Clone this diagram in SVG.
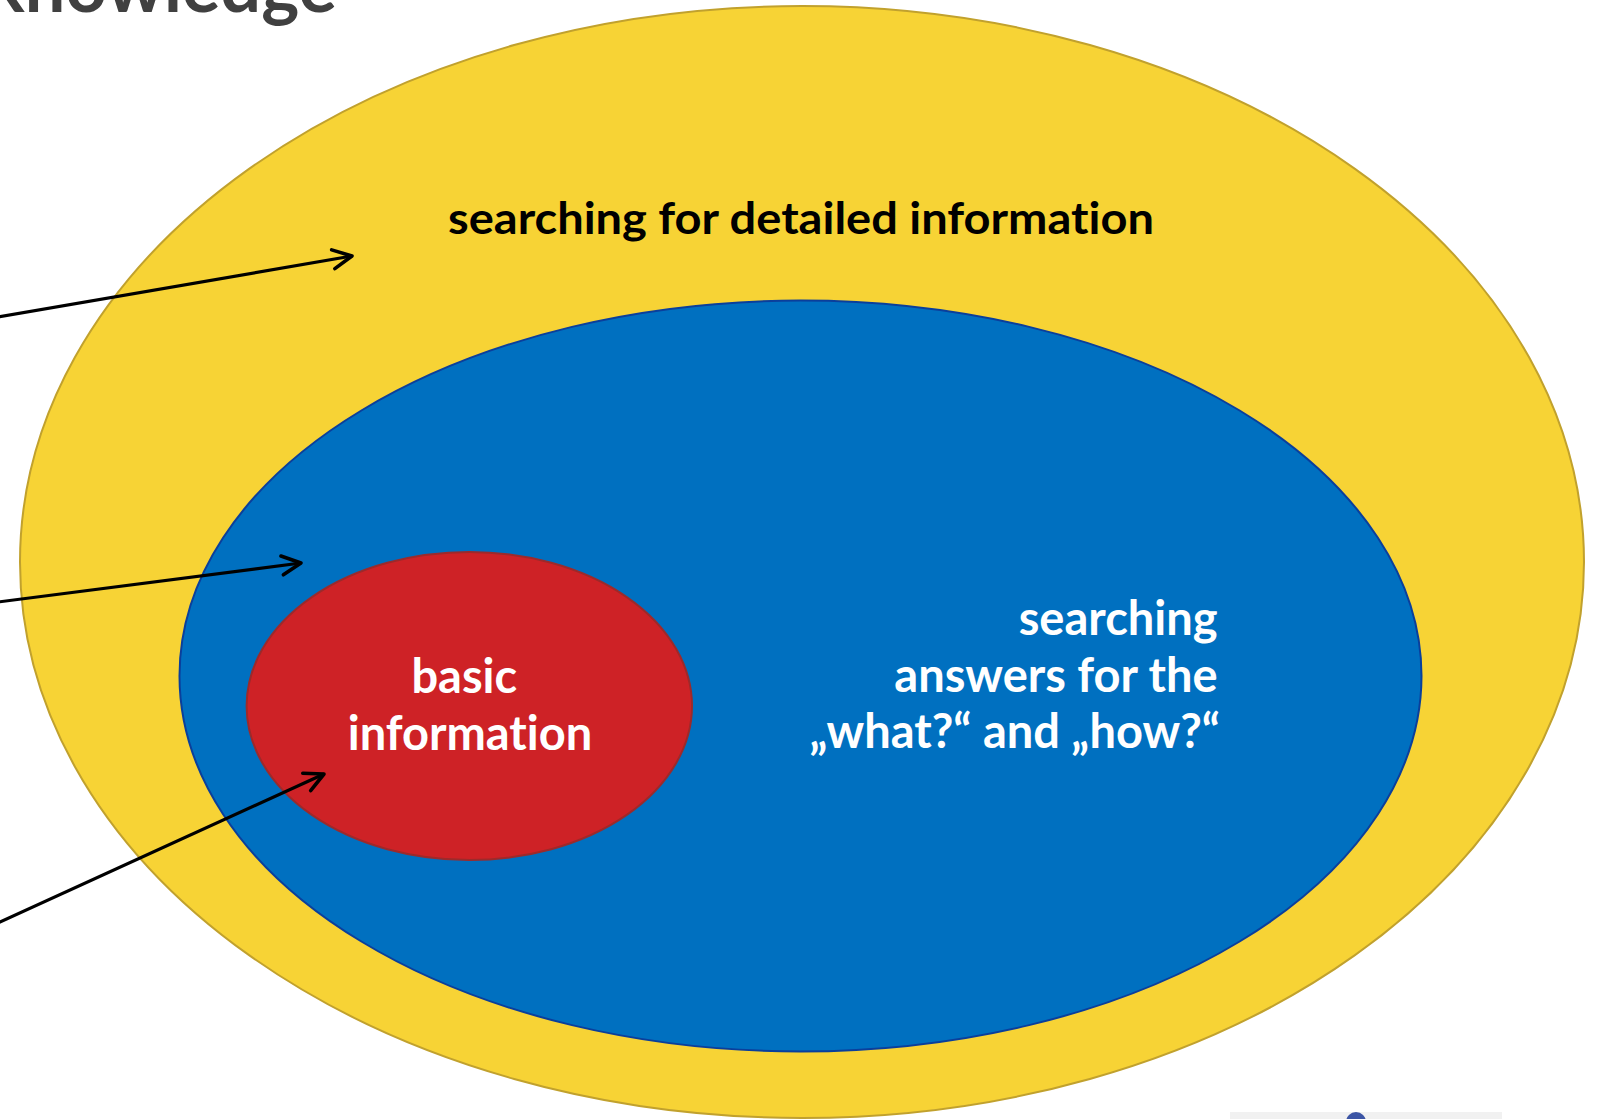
<svg xmlns="http://www.w3.org/2000/svg" width="1598" height="1119" viewBox="0 0 1598 1119">
<style>
  .t { font-family: Lato, "Liberation Sans", sans-serif; font-weight: bold; font-variant-ligatures: none; font-feature-settings: "liga" 0; }
  .dark { fill: #000000; font-size: 44px; }
  .white { fill: #ffffff; font-size: 47px; }
  .conn line { stroke: #000000; stroke-width: 3.2; fill: none; }
</style>
<defs>
  <marker id="arrow" markerUnits="userSpaceOnUse" markerWidth="30" markerHeight="30" refX="0" refY="0" viewBox="-25 -15 30 30" orient="auto" overflow="visible">
    <path d="M-19,-9.5 L0,0 L-19,9.5" fill="none" stroke="#000000" stroke-width="3.6" stroke-linecap="round" stroke-linejoin="round"/>
  </marker>
</defs>
<rect width="1598" height="1119" fill="#ffffff"/>
<text class="t" x="337" y="12" text-anchor="end" font-size="72" fill="#404040">knowledge</text>
<rect x="1230" y="1112" width="272" height="8" fill="#f1f1f1"/>
<circle cx="1356" cy="1122" r="10" fill="#3c55a5"/>
<g id="outer">
  <ellipse cx="802" cy="562" rx="782" ry="556" fill="#f7d335" stroke="#c1a12d" stroke-width="2"/>
  <text class="t dark" x="801" y="234" text-anchor="middle" textLength="706" lengthAdjust="spacingAndGlyphs">searching for detailed information</text>
</g>
<g id="middle">
  <ellipse cx="800.5" cy="676" rx="621" ry="375.5" fill="#0070c0" stroke="#0a3f9c" stroke-width="2"/>
  <text class="t white" text-anchor="end">
    <tspan x="1229" y="635">searching</tspan>
    <tspan x="1229" y="692">answers for the</tspan>
    <tspan x="1220" y="748">„what?“ and „how?“</tspan>
  </text>
</g>
<g id="inner">
  <ellipse cx="469.3" cy="706" rx="222.7" ry="154" fill="#ce2226" stroke="#9c2a2b" stroke-width="2"/>
  <text class="t white" text-anchor="middle">
    <tspan x="470" y="693">basic</tspan>
    <tspan x="470" y="750">information</tspan>
  </text>
</g>
<g class="conn" id="connectors">
  <line x1="-2" y1="317" x2="352" y2="256" marker-end="url(#arrow)"/>
  <line x1="-2" y1="602" x2="301" y2="563" marker-end="url(#arrow)"/>
  <line x1="-2" y1="923" x2="324" y2="774" marker-end="url(#arrow)"/>
</g>
</svg>
